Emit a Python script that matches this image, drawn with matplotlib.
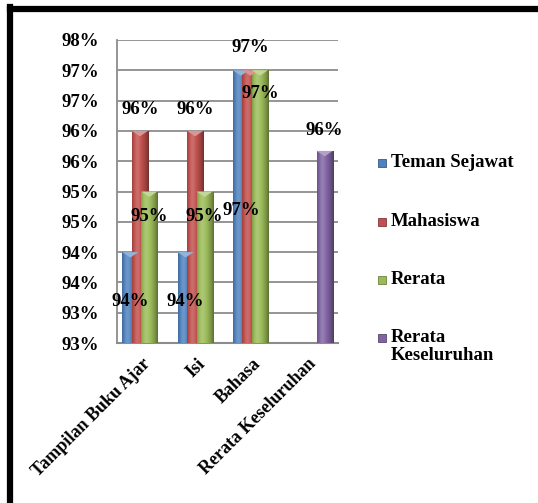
import numpy as np
import matplotlib
matplotlib.use("Agg")
import matplotlib.pyplot as plt
from matplotlib.patches import Rectangle, Polygon
from matplotlib.lines import Line2D
from matplotlib.colors import to_rgb

plt.rcParams['font.family'] = ['Liberation Serif', 'DejaVu Serif']
plt.rcParams['font.weight'] = 'bold'

categories = ["Tampilan Buku Ajar", "Isi", "Bahasa", "Rerata Keseluruhan"]
series = ["Teman Sejawat", "Mahasiswa", "Rerata", "Rerata Keseluruhan"]
teman_sejawat = [94.0, 94.0, 97.0, None]
mahasiswa = [96.0, 96.0, 97.0, None]
rerata = [95.0, 95.0, 97.0, None]
rerata_keseluruhan = [None, None, None, 95.67]
values = [teman_sejawat, mahasiswa, rerata, rerata_keseluruhan]
colors = ["#4F81BD", "#C0504D", "#9BBB59", "#8064A2"]

# label offsets (data units) relative to each bar top, Excel put them oddly
label_off = [
    [-0.82, -0.82, -2.31, 0],
    [0.36, 0.36, 0.38, 0],
    [-0.42, -0.42, -0.38, 0],
    [0, 0, 0, 0.34],
]

fig = plt.figure(figsize=(5.38, 5.03), dpi=100)
ax = fig.add_axes([117 / 538, 1 - 343 / 503, 221 / 538, 303 / 503])

width = 0.29
step = 0.172


def shade(c, f):
    c = np.array(to_rgb(c))
    if f >= 0:
        return c + (1 - c) * f
    return c * (1 + f)


def gradient(c):
    t = np.linspace(0, 1, 40)
    # cylinder look: darker edges, soft highlight left of centre
    f = 0.18 * np.exp(-((t - 0.3) / 0.2) ** 2) - 0.4 * ((t - 0.4) / 0.6) ** 2
    img = np.array([shade(c, v) for v in f])
    return np.clip(img[None, :, :], 0, 1)


def draw_bar(x, h, c):
    x0 = x - width / 2
    rect = Rectangle((x0, 92.5), width, h - 92.5, facecolor="none", edgecolor="none")
    ax.add_patch(rect)
    im = ax.imshow(gradient(c), extent=[x0, x0 + width, 92.5, h],
                   aspect="auto", zorder=3)
    im.set_clip_path(rect)
    tip = Polygon([[x0, h], [x0 + width, h], [x, h - 0.09]], closed=True,
                  facecolor=shade(c, 0.4), edgecolor="none", zorder=4)
    ax.add_patch(tip)


for s in range(len(series)):
    for i in range(len(categories)):
        v = values[s][i]
        if v is None:
            continue
        x = i + (s - 1.5) * step
        draw_bar(x, v, colors[s])
        ax.text(x, v + label_off[s][i], f"{int(v + 0.5)}%", ha="center",
                va="center", fontsize=13.5, fontweight="bold", zorder=6)

ax.set_xlim(-0.5, 3.5)
ax.set_ylim(92.5, 97.5)
ticks = np.arange(92.5, 97.51, 0.5)
ax.set_yticks(ticks)
ax.set_yticklabels([f"{int(t + 0.5)}%" for t in ticks])
ax.yaxis.grid(True, color="#8c8c8c", linewidth=1.3)
ax.set_axisbelow(True)
ax.tick_params(axis="y", length=0, pad=13, labelsize=13.5)
ax.tick_params(axis="x", length=0)
ax.set_xticks(range(len(categories)))
ax.set_xticklabels(categories, rotation=45, ha="right", va="top",
                   rotation_mode="anchor", fontsize=13)
for lab in ax.get_xticklabels():
    lab.set_y(-0.025)
    lab.set_transform(lab.get_transform() + matplotlib.transforms.ScaledTranslation(
        -3 / 100, 0, fig.dpi_scale_trans))
for side in ["top", "right"]:
    ax.spines[side].set_visible(False)
ax.spines["left"].set_color("#8c8c8c")
ax.spines["bottom"].set_color("#8c8c8c")
ax.spines["left"].set_linewidth(1.3)
ax.spines["bottom"].set_linewidth(1.5)

# legend drawn by hand to get Excel spacing
leg_y = [163, 222, 280, 338]
leg_txt = ["Teman Sejawat", "Mahasiswa", "Rerata", "Rerata\nKeseluruhan"]
for c, y, t in zip(colors, leg_y, leg_txt):
    fig.patches.append(Rectangle((378 / 538, 1 - (y + 4) / 503), 8 / 538, 8 / 503,
                                 transform=fig.transFigure, facecolor=c,
                                 edgecolor=shade(c, -0.3), linewidth=0.6))
    fig.text(391 / 538, 1 - (y - 9) / 503, t, ha="left", va="top",
             fontsize=13.5, fontweight="bold", linespacing=1.1)

# thick frame (top and left visible)
fig.lines.append(Line2D([10 / 538, 1], [1 - 9 / 503, 1 - 9 / 503],
                        transform=fig.transFigure, color="black", linewidth=4.5))
fig.lines.append(Line2D([10 / 538, 10 / 538], [0, 1 - 7 / 503],
                        transform=fig.transFigure, color="black", linewidth=4.5))

fig.savefig("out.png", dpi=100)
